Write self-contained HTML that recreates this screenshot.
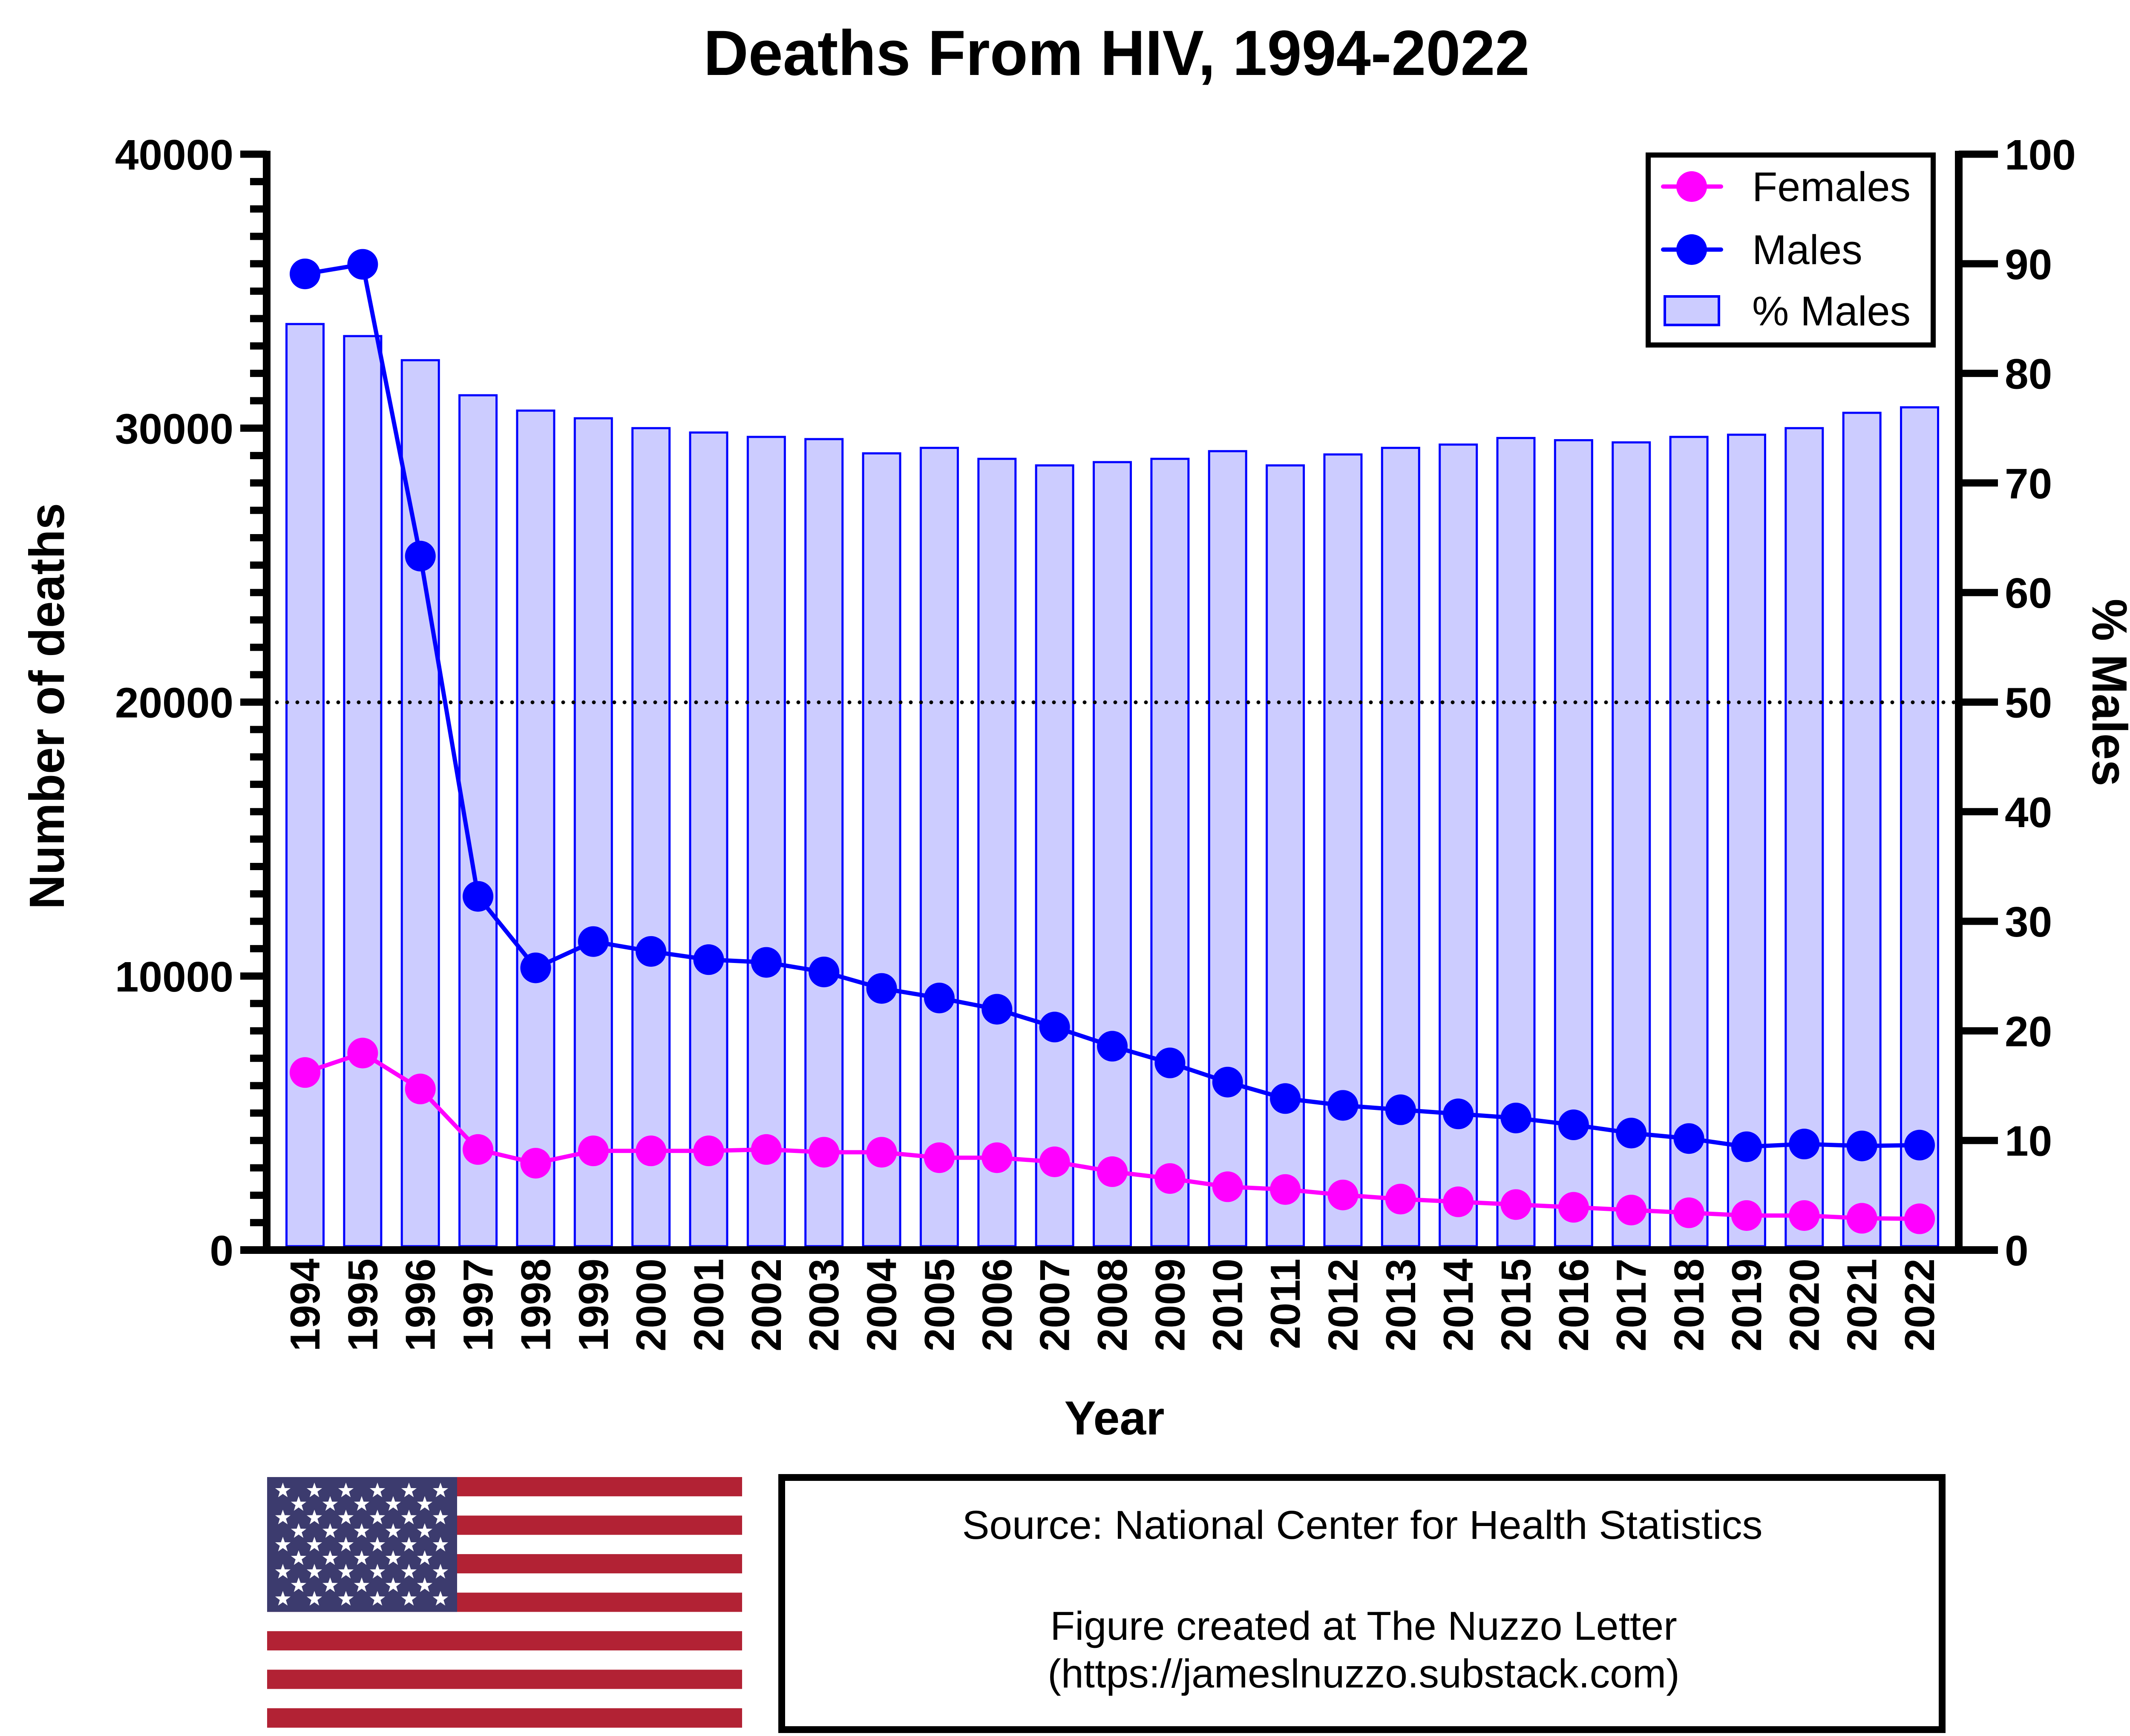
<!DOCTYPE html>
<html><head><meta charset="utf-8"><style>
html,body{margin:0;padding:0;background:#fff;}
svg{display:block;}
text{font-family:"Liberation Sans",Arial,sans-serif;}
</style></head><body>
<svg id="chart" xmlns="http://www.w3.org/2000/svg" width="5067" height="4076" viewBox="0 0 5067 4076">
<rect x="0" y="0" width="5067" height="4076" fill="#fff"/>
<text x="2621" y="176" font-size="150" font-weight="bold" text-anchor="middle" textLength="1939" lengthAdjust="spacingAndGlyphs">Deaths From HIV, 1994-2022</text>
<g id="bars"></g>
<line x1="626" y1="1649" x2="4598" y2="1649" stroke="#000" stroke-width="9" stroke-dasharray="0 24" stroke-linecap="round"/>
<g id="series"></g>
<g id="axes"></g>
<text transform="translate(150,1658) rotate(-90)" font-size="116" font-weight="bold" text-anchor="middle" textLength="954" lengthAdjust="spacingAndGlyphs">Number of deaths</text>
<text transform="translate(4912,1626) rotate(90)" font-size="116" font-weight="bold" text-anchor="middle" textLength="440" lengthAdjust="spacingAndGlyphs">% Males</text>
<text x="2616" y="3368" font-size="112" font-weight="bold" text-anchor="middle" textLength="235" lengthAdjust="spacingAndGlyphs">Year</text>
<g>
<rect x="3869" y="364" width="669" height="446" fill="#fff" stroke="#000" stroke-width="12"/>
<g>
<line x1="3904" y1="438" x2="4040" y2="438" stroke="#ff00ff" stroke-width="10" stroke-linecap="round"/>
<circle cx="3971" cy="438" r="36" fill="#ff00ff"/>
<text x="4113" y="472" font-size="97">Females</text></g>
<g>
<line x1="3904" y1="586" x2="4040" y2="586" stroke="#0000ff" stroke-width="10" stroke-linecap="round"/>
<circle cx="3971" cy="586" r="36" fill="#0000ff"/>
<text x="4113" y="620" font-size="97">Males</text></g>
<g>
<rect x="3908" y="696" width="127" height="67" fill="#ccccff" stroke="#0000ff" stroke-width="6"/>
<text x="4113" y="764" font-size="97">% Males</text></g>
</g>
<g id="flag"></g>
<g>
<rect x="1835" y="3469" width="2724" height="592" fill="#fff" stroke="#000" stroke-width="16"/>
<text x="3198" y="3613" font-size="95" text-anchor="middle" textLength="1879" lengthAdjust="spacingAndGlyphs">Source: National Center for Health Statistics</text>
<text x="3201" y="3850" font-size="95" text-anchor="middle">Figure created at The Nuzzo Letter</text>
<text x="3201" y="3962" font-size="95" text-anchor="middle">(https://jameslnuzzo.substack.com)</text>
</g>
</svg>
<script>
const years = [1994,1995,1996,1997,1998,1999,2000,2001,2002,2003,2004,2005,2006,2007,2008,2009,2010,2011,2012,2013,2014,2015,2016,2017,2018,2019,2020,2021,2022];
const males = [35630,35980,25330,12910,10300,11260,10900,10600,10500,10150,9550,9200,8790,8140,7440,6830,6130,5530,5280,5120,4970,4820,4570,4270,4070,3770,3870,3800,3830];
const females = [6480,7190,5880,3670,3170,3620,3620,3620,3670,3570,3570,3370,3370,3220,2860,2610,2310,2210,2010,1860,1760,1660,1560,1460,1360,1260,1260,1160,1140];
const pctMales = [84.5,83.4,81.2,78.0,76.6,75.9,75.0,74.6,74.2,74.0,72.7,73.2,72.2,71.6,71.9,72.2,72.9,71.6,72.6,73.2,73.5,74.1,73.9,73.7,74.2,74.4,75.0,76.4,76.9];
const leftTicks = [0,10000,20000,30000,40000];
const rightTicks = [0,10,20,30,40,50,60,70,80,90,100];

const NS = "http://www.w3.org/2000/svg";
const Y0 = 2935, YT = 362;
function xPos(i){ return 716 + i*(4506-716)/(years.length-1); }
function yLeft(v){ return Y0 - v/40000*(Y0-YT); }
function yRight(v){ return Y0 - v/100*(Y0-YT); }
function mk(tag, attrs, parent){ const e=document.createElementNS(NS,tag); for(const k in attrs) e.setAttribute(k,attrs[k]); parent.appendChild(e); return e; }

const bars = document.getElementById('bars');
pctMales.forEach((p,i)=>{
  const y = yRight(p);
  const r = mk('rect',{x:xPos(i)-43.5,y:y,width:87,height:Y0-9-y,fill:'#ccccff',stroke:'#0000ff','stroke-width':5},bars);
  
  
});

const series = document.getElementById('series');
function drawSeries(vals, color, name){
  const pts = vals.map((v,i)=>xPos(i)+','+yLeft(v)).join(' ');
  const pl = mk('polyline',{points:pts,fill:'none',stroke:color,'stroke-width':10,'stroke-linejoin':'round'},series);
  
  
  vals.forEach((v,i)=>{
    const c = mk('circle',{cx:xPos(i),cy:yLeft(v),r:36,fill:color},series);
    
    
  });
}
drawSeries(males,'#0000ff','males');
drawSeries(females,'#ff00ff','females');

const axes = document.getElementById('axes');
let a;
a = mk('line',{x1:626,y1:354,x2:626,y2:2944,stroke:'#000','stroke-width':18},axes);
 
a = mk('line',{x1:4598,y1:354,x2:4598,y2:2944,stroke:'#000','stroke-width':18},axes);
 
a = mk('line',{x1:564,y1:2935,x2:4690,y2:2935,stroke:'#000','stroke-width':18},axes);
 
for(let v=0; v<=40000; v+=1000){
  const major = v%10000===0;
  const t = mk('line',{x1:major?564:587,y1:yLeft(v),x2:626,y2:yLeft(v),stroke:'#000','stroke-width':17},axes);
  
  
}
leftTicks.forEach(v=>{
  const t = mk('text',{x:548,y:yLeft(v)+36,'font-size':100,'font-weight':'bold','text-anchor':'end'},axes);
  t.textContent = v;
  
  
});
rightTicks.forEach(v=>{
  const t = mk('line',{x1:4598,y1:yRight(v),x2:4690,y2:yRight(v),stroke:'#000','stroke-width':17},axes);
  
  
  const l = mk('text',{x:4706,y:yRight(v)+36,'font-size':100,'font-weight':'bold'},axes);
  l.textContent = v;
  
  
});
years.forEach((yr,i)=>{
  const l = mk('text',{transform:'translate('+(xPos(i)+34)+',2955) rotate(-90)','font-size':98,'font-weight':'bold','text-anchor':'end'},axes);
  l.textContent = yr;
  
  
});

// flag
const flag = document.getElementById('flag');
const fx=627, fy=3468, fw=1115, sh=(4056-3468)/13;
for(let s=0;s<13;s++){
  const st = mk('rect',{x:fx,y:fy+s*sh,width:fw,height:sh+0.5,fill:s%2===0?'#b22234':'#ffffff'},flag);
  
  
}
const canton = mk('rect',{x:fx,y:fy,width:446,height:sh*7,fill:'#3c3b6e'},flag);


function starPts(cx,cy,R){ const p=[]; for(let k=0;k<10;k++){ const r=k%2?R*0.4:R; const a=-Math.PI/2+k*Math.PI/5; p.push((cx+r*Math.cos(a)).toFixed(1)+','+(cy+r*Math.sin(a)).toFixed(1)); } return p.join(' '); }
for(let row=0; row<9; row++){
  const n = row%2===0?6:5;
  const off = row%2===0?0:37;
  for(let c=0;c<n;c++){
    const s = mk('polygon',{points:starPts(664+off+c*74,3500+row*31.8,19),fill:'#fff'},flag);
    
    
  }
}
</script>
</body></html>
